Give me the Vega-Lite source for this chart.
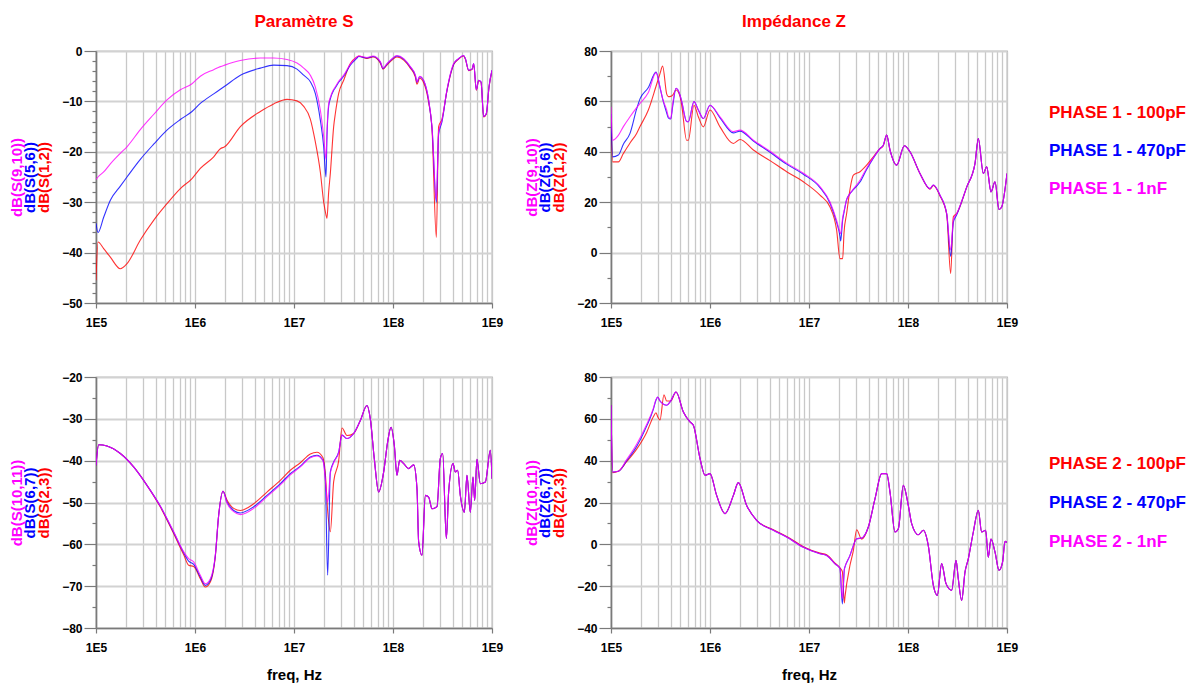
{
  "$schema": "https://vega.github.io/schema/vega-lite/v6.json",
  "padding": {"left": 8, "top": 12, "right": 0, "bottom": 0},
  "spacing": 41,
  "config": {
    "font": "Liberation Sans",
    "view": {"stroke": "#8c8c8c", "strokeWidth": 1.2},
    "concat": {"spacing": 19},
    "line": {"interpolate": "monotone"},
    "axis": {
      "labelFont": "Liberation Sans", "labelFontWeight": "bold", "labelFontSize": 12, "labelColor": "#000000",
      "titleFont": "Liberation Sans", "titleFontWeight": "bold", "titleFontSize": 15,
      "domainColor": "#7a7a7a", "domainWidth": 1.6, "tickColor": "#7a7a7a", "tickWidth": 1.2,
      "gridColor": "#c8c8c8", "gridWidth": 1.3
    },
    "title": {"font": "Liberation Sans", "fontSize": 17, "fontWeight": "bold", "color": "#ff0000", "anchor": "middle", "frame": "group", "offset": 14}
  },
  "datasets": {
    "tl": [
      {"f": 1e5, "r": -45.5, "b": -34.2, "m": -25.5},
      {"f": 1.048e5, "r": -37.9, "b": -36.0, "m": -25.0},
      {"f": 1.195e5, "r": -39.2, "b": -33.0, "m": -24.0},
      {"f": 1.396e5, "r": -40.9, "b": -29.6, "m": -22.4},
      {"f": 1.762e5, "r": -43.2, "b": -26.8, "m": -20.3},
      {"f": 2.056e5, "r": -42.2, "b": -25.0, "m": -19.0},
      {"f": 2.804e5, "r": -37.5, "b": -21.5, "m": -15.6},
      {"f": 3.822e5, "r": -33.6, "b": -18.5, "m": -12.6},
      {"f": 5.21e5, "r": -30.3, "b": -15.7, "m": -9.7},
      {"f": 7.11e5, "r": -27.3, "b": -13.6, "m": -7.7},
      {"f": 9.33e5, "r": -25.3, "b": -12.0, "m": -6.5},
      {"f": 1.132e6, "r": -23.3, "b": -10.4, "m": -5.0},
      {"f": 1.545e6, "r": -21.0, "b": -8.5, "m": -3.7},
      {"f": 1.803e6, "r": -19.4, "b": -7.6, "m": -3.1},
      {"f": 1.995e6, "r": -19.0, "b": -7.0, "m": -2.8},
      {"f": 2.872e6, "r": -15.0, "b": -4.8, "m": -1.9},
      {"f": 4.57e6, "r": -12.0, "b": -3.4, "m": -1.4},
      {"f": 6.237e6, "r": -10.5, "b": -2.8, "m": -1.4},
      {"f": 8.5e6, "r": -9.6, "b": -2.9, "m": -1.7},
      {"f": 1.072e7, "r": -9.9, "b": -3.6, "m": -2.4},
      {"f": 1.253e7, "r": -11.0, "b": -4.8, "m": -3.4},
      {"f": 1.462e7, "r": -13.5, "b": -6.1, "m": -4.8},
      {"f": 1.641e7, "r": -18.0, "b": -8.4, "m": -7.1},
      {"f": 1.845e7, "r": -24.0, "b": -13.7, "m": -11.7},
      {"f": 1.995e7, "r": -30.0, "b": -19.0, "m": -17.0},
      {"f": 2.104e7, "r": -32.5, "b": -25.0, "m": -21.5},
      {"f": 2.153e7, "r": -33.2, "b": -17.0, "m": -16.0},
      {"f": 2.239e7, "r": -28.0, "b": -11.0, "m": -10.5},
      {"f": 2.328e7, "r": -24.3, "b": -9.5, "m": -9.2},
      {"f": 2.516e7, "r": -15.0, "b": -7.8, "m": -7.6},
      {"f": 2.616e7, "r": -12.4, "b": -7.3, "m": -7.1},
      {"f": 2.828e7, "r": -8.4, "b": -6.2, "m": -6.0},
      {"f": 3.177e7, "r": -5.8, "b": -5.0, "m": -4.8},
      {"f": 3.707e7, "r": -2.5, "b": -2.8, "m": -2.6},
      {"f": 4.329e7, "r": -1.2, "b": -1.4, "m": -1.2},
      {"f": 4.5e7, "r": -1.0, "b": -1.1, "m": -1.0},
      {"f": 5.458e7, "r": -1.5, "b": -1.4, "m": -1.3},
      {"f": 6.28e7, "r": -1.2, "b": -1.1, "m": -1.0},
      {"f": 7.447e7, "r": -2.4, "b": -2.2, "m": -2.1},
      {"f": 7.92e7, "r": -3.6, "b": -3.5, "m": -3.4},
      {"f": 8.69e7, "r": -2.8, "b": -2.6, "m": -2.5},
      {"f": 9.77e7, "r": -1.8, "b": -1.6, "m": -1.5},
      {"f": 1.097e8, "r": -1.2, "b": -1.0, "m": -0.9},
      {"f": 1.282e8, "r": -1.8, "b": -1.6, "m": -1.5},
      {"f": 1.496e8, "r": -3.4, "b": -3.2, "m": -3.1},
      {"f": 1.682e8, "r": -5.2, "b": -4.9, "m": -4.8},
      {"f": 1.747e8, "r": -6.6, "b": -6.2, "m": -6.1},
      {"f": 1.858e8, "r": -5.4, "b": -5.1, "m": -5.0},
      {"f": 2.04e8, "r": -6.3, "b": -5.9, "m": -5.8},
      {"f": 2.291e8, "r": -10.2, "b": -9.8, "m": -9.7},
      {"f": 2.477e8, "r": -15.5, "b": -15.2, "m": -15.0},
      {"f": 2.74e8, "r": -37.0, "b": -30.0, "m": -29.5},
      {"f": 2.891e8, "r": -15.0, "b": -16.5, "m": -16.0},
      {"f": 3.126e8, "r": -13.5, "b": -14.0, "m": -13.7},
      {"f": 3.508e8, "r": -7.9, "b": -7.8, "m": -7.7},
      {"f": 4.1e8, "r": -2.7, "b": -2.6, "m": -2.5},
      {"f": 4.605e8, "r": -1.6, "b": -1.5, "m": -1.5},
      {"f": 5.17e8, "r": -1.0, "b": -0.9, "m": -0.9},
      {"f": 5.38e8, "r": -1.6, "b": -1.5, "m": -1.5},
      {"f": 5.81e8, "r": -3.9, "b": -3.8, "m": -3.8},
      {"f": 6.28e8, "r": -3.7, "b": -3.6, "m": -3.6},
      {"f": 6.53e8, "r": -2.6, "b": -2.5, "m": -2.5},
      {"f": 6.95e8, "r": -7.8, "b": -7.7, "m": -7.7},
      {"f": 7.33e8, "r": -5.9, "b": -5.8, "m": -5.8},
      {"f": 7.74e8, "r": -6.2, "b": -6.1, "m": -6.1},
      {"f": 8.24e8, "r": -13.1, "b": -13.0, "m": -13.0},
      {"f": 8.77e8, "r": -12.5, "b": -12.4, "m": -12.4},
      {"f": 9.33e8, "r": -7.2, "b": -7.1, "m": -7.1},
      {"f": 1e9, "r": -3.9, "b": -3.8, "m": -3.8}
    ],
    "tr": [
      {"f": 1e5, "r": 54, "b": 55, "m": 57.9},
      {"f": 1.039e5, "r": 36, "b": 38, "m": 44.6},
      {"f": 1.186e5, "r": 36, "b": 38.7, "m": 46.5},
      {"f": 1.333e5, "r": 39.3, "b": 43, "m": 50},
      {"f": 1.556e5, "r": 43.5, "b": 47.3, "m": 53.9},
      {"f": 1.816e5, "r": 47.3, "b": 57, "m": 57.5},
      {"f": 1.963e5, "r": 50, "b": 61, "m": 59.2},
      {"f": 2.384e5, "r": 56.6, "b": 65.5, "m": 63.5},
      {"f": 2.85e5, "r": 66, "b": 71.6, "m": 71.4},
      {"f": 3.126e5, "r": 71, "b": 65.5, "m": 65.8},
      {"f": 3.324e5, "r": 74, "b": 61, "m": 61},
      {"f": 3.648e5, "r": 63, "b": 55.5, "m": 56.6},
      {"f": 3.793e5, "r": 61.9, "b": 53.5, "m": 54},
      {"f": 4.009e5, "r": 62, "b": 53, "m": 53.2},
      {"f": 4.198e5, "r": 62.5, "b": 58, "m": 59},
      {"f": 4.539e5, "r": 64.5, "b": 65.2, "m": 65.2},
      {"f": 4.977e5, "r": 62, "b": 62.5, "m": 62.5},
      {"f": 5.176e5, "r": 58.5, "b": 60, "m": 60},
      {"f": 5.808e5, "r": 44.6, "b": 52, "m": 52},
      {"f": 6.04e5, "r": 44.6, "b": 51.9, "m": 51.9},
      {"f": 6.887e5, "r": 58.5, "b": 59.9, "m": 59.9},
      {"f": 7.62e5, "r": 53.9, "b": 56.6, "m": 56.6},
      {"f": 8.57e5, "r": 49.9, "b": 53.2, "m": 53.2},
      {"f": 1e6, "r": 56.6, "b": 58.5, "m": 58.5},
      {"f": 1.262e6, "r": 49.9, "b": 53.5, "m": 53.9},
      {"f": 1.722e6, "r": 43.3, "b": 47.5, "m": 48},
      {"f": 2.01e6, "r": 44.9, "b": 48.2, "m": 48.6},
      {"f": 2.742e6, "r": 40.7, "b": 44.3, "m": 44.6},
      {"f": 4.04e6, "r": 36.5, "b": 39.8, "m": 40.2},
      {"f": 5.95e6, "r": 32.1, "b": 35.1, "m": 35.5},
      {"f": 8.77e6, "r": 28.1, "b": 31.1, "m": 31.5},
      {"f": 1.291e7, "r": 22.8, "b": 25.8, "m": 26.2},
      {"f": 1.63e7, "r": 18.1, "b": 19.6, "m": 20.1},
      {"f": 1.902e7, "r": 8.9, "b": 12, "m": 12.8},
      {"f": 2.056e7, "r": -2.4, "b": 6.5, "m": 8},
      {"f": 2.089e7, "r": -2.4, "b": 4.6, "m": 7.5},
      {"f": 2.188e7, "r": -2.4, "b": 13, "m": 14},
      {"f": 2.259e7, "r": 8, "b": 16, "m": 16.5},
      {"f": 2.4e7, "r": 15.5, "b": 21, "m": 21},
      {"f": 2.594e7, "r": 25, "b": 23.4, "m": 23.4},
      {"f": 2.805e7, "r": 30.7, "b": 25, "m": 25.2},
      {"f": 3.275e7, "r": 32.1, "b": 28, "m": 28.7},
      {"f": 3.82e7, "r": 34.7, "b": 33, "m": 33.5},
      {"f": 4.466e7, "r": 38, "b": 37.5, "m": 37.7},
      {"f": 5.21e7, "r": 41.3, "b": 41.3, "m": 41.3},
      {"f": 5.63e7, "r": 42.4, "b": 42.6, "m": 42.6},
      {"f": 6.09e7, "r": 46.6, "b": 46.6, "m": 46.6},
      {"f": 6.58e7, "r": 40.7, "b": 40.7, "m": 40.7},
      {"f": 7.69e7, "r": 34.7, "b": 34.7, "m": 34.7},
      {"f": 9.19e7, "r": 42.4, "b": 42.4, "m": 42.4},
      {"f": 1.047e8, "r": 40, "b": 40, "m": 40},
      {"f": 1.321e8, "r": 31.4, "b": 31.4, "m": 31.4},
      {"f": 1.667e8, "r": 25.2, "b": 25.4, "m": 25.4},
      {"f": 1.803e8, "r": 26.6, "b": 26.8, "m": 26.8},
      {"f": 2.104e8, "r": 22.5, "b": 22.8, "m": 22.8},
      {"f": 2.46e8, "r": 15.2, "b": 15.5, "m": 15.5},
      {"f": 2.698e8, "r": -8.3, "b": -1.5, "m": 1},
      {"f": 2.871e8, "r": 14.2, "b": 12, "m": 13},
      {"f": 3.105e8, "r": 15.5, "b": 15, "m": 15.5},
      {"f": 3.917e8, "r": 26, "b": 26, "m": 26},
      {"f": 4.753e8, "r": 35.4, "b": 35.4, "m": 35.4},
      {"f": 5.13e8, "r": 45.3, "b": 45.3, "m": 45.3},
      {"f": 5.77e8, "r": 31.4, "b": 31.4, "m": 31.4},
      {"f": 6.24e8, "r": 34, "b": 34, "m": 34},
      {"f": 6.89e8, "r": 24.1, "b": 24.1, "m": 24.1},
      {"f": 7.57e8, "r": 28.1, "b": 28.1, "m": 28.1},
      {"f": 8.3e8, "r": 17.1, "b": 17.1, "m": 17.1},
      {"f": 8.83e8, "r": 18.1, "b": 18.1, "m": 18.1},
      {"f": 1e9, "r": 31.4, "b": 31.4, "m": 31.4}
    ],
    "bl": [
      {"f": 1e5, "r": -41.1, "b": -41.1, "m": -41.1},
      {"f": 1.064e5, "r": -36.2, "b": -36.2, "m": -36.2},
      {"f": 1.291e5, "r": -36.5, "b": -36.5, "m": -36.5},
      {"f": 1.762e5, "r": -38.3, "b": -38.3, "m": -38.3},
      {"f": 2.4e5, "r": -41.5, "b": -41.5, "m": -41.5},
      {"f": 3.273e5, "r": -45.9, "b": -45.9, "m": -45.9},
      {"f": 4.467e5, "r": -51.1, "b": -50.9, "m": -50.9},
      {"f": 6.1e5, "r": -57.5, "b": -57.2, "m": -57},
      {"f": 7.69e5, "r": -62.5, "b": -62, "m": -61.8},
      {"f": 8.63e5, "r": -65, "b": -64, "m": -63.4},
      {"f": 9.7e5, "r": -65.3, "b": -64.8, "m": -64.2},
      {"f": 1.132e6, "r": -68.2, "b": -67.8, "m": -67.4},
      {"f": 1.271e6, "r": -70.2, "b": -69.8, "m": -69.4},
      {"f": 1.429e6, "r": -69, "b": -68.6, "m": -68.2},
      {"f": 1.603e6, "r": -63, "b": -62.8, "m": -62.6},
      {"f": 1.733e6, "r": -53.1, "b": -53.1, "m": -53.1},
      {"f": 1.918e6, "r": -47.3, "b": -47.3, "m": -47.3},
      {"f": 2.104e6, "r": -49.4, "b": -49.9, "m": -50.1},
      {"f": 2.46e6, "r": -51.4, "b": -51.9, "m": -52.2},
      {"f": 2.872e6, "r": -51.9, "b": -52.5, "m": -52.9},
      {"f": 3.917e6, "r": -50.3, "b": -51, "m": -51.4},
      {"f": 5.333e6, "r": -47.5, "b": -48.3, "m": -48.6},
      {"f": 7.278e6, "r": -44.7, "b": -45.5, "m": -45.8},
      {"f": 9.18e6, "r": -42.3, "b": -43.1, "m": -43.4},
      {"f": 1.159e7, "r": -40.5, "b": -41.3, "m": -41.5},
      {"f": 1.462e7, "r": -38.4, "b": -39.1, "m": -39.3},
      {"f": 1.706e7, "r": -38, "b": -38.7, "m": -38.9},
      {"f": 1.963e7, "r": -39.3, "b": -39.9, "m": -40},
      {"f": 2.072e7, "r": -43, "b": -44.3, "m": -44.5},
      {"f": 2.188e7, "r": -52, "b": -67.4, "m": -50},
      {"f": 2.328e7, "r": -57, "b": -42.7, "m": -43},
      {"f": 2.516e7, "r": -45, "b": -40.3, "m": -40.5},
      {"f": 2.828e7, "r": -40, "b": -37.9, "m": -38},
      {"f": 3.055e7, "r": -32.2, "b": -33.9, "m": -33.9},
      {"f": 3.43e7, "r": -34, "b": -34.7, "m": -34.7},
      {"f": 4.006e7, "r": -33.5, "b": -33.5, "m": -33.5},
      {"f": 4.677e7, "r": -30.4, "b": -30.4, "m": -30.4},
      {"f": 5.458e7, "r": -26.8, "b": -26.8, "m": -26.8},
      {"f": 5.9e7, "r": -30, "b": -30, "m": -30},
      {"f": 6.47e7, "r": -39.5, "b": -39.5, "m": -39.5},
      {"f": 7.16e7, "r": -47.5, "b": -47.5, "m": -47.5},
      {"f": 8.05e7, "r": -42.7, "b": -42.7, "m": -42.7},
      {"f": 8.83e7, "r": -35.5, "b": -35.5, "m": -35.5},
      {"f": 9.55e7, "r": -32, "b": -32, "m": -32},
      {"f": 1.031e8, "r": -36.3, "b": -36.3, "m": -36.3},
      {"f": 1.097e8, "r": -43.5, "b": -43.5, "m": -43.5},
      {"f": 1.167e8, "r": -39.9, "b": -39.9, "m": -39.9},
      {"f": 1.282e8, "r": -40.7, "b": -40.7, "m": -40.7},
      {"f": 1.439e8, "r": -41.9, "b": -41.9, "m": -41.9},
      {"f": 1.618e8, "r": -41, "b": -41, "m": -41},
      {"f": 1.747e8, "r": -46.7, "b": -46.7, "m": -46.7},
      {"f": 1.816e8, "r": -59.4, "b": -59.4, "m": -59.4},
      {"f": 1.963e8, "r": -62.6, "b": -62.6, "m": -62.6},
      {"f": 2.123e8, "r": -48.3, "b": -48.3, "m": -48.3},
      {"f": 2.291e8, "r": -48.7, "b": -48.7, "m": -48.7},
      {"f": 2.477e8, "r": -51.5, "b": -51.5, "m": -51.5},
      {"f": 2.782e8, "r": -51, "b": -51, "m": -51},
      {"f": 3.006e8, "r": -39.5, "b": -39.5, "m": -39.5},
      {"f": 3.177e8, "r": -38.3, "b": -38.3, "m": -38.3},
      {"f": 3.459e8, "r": -58.6, "b": -58.6, "m": -58.6},
      {"f": 3.648e8, "r": -47.5, "b": -47.5, "m": -47.5},
      {"f": 4.036e8, "r": -40.7, "b": -40.7, "m": -40.7},
      {"f": 4.266e8, "r": -42.7, "b": -42.7, "m": -42.7},
      {"f": 4.5e8, "r": -42.3, "b": -42.3, "m": -42.3},
      {"f": 4.786e8, "r": -48.3, "b": -48.3, "m": -48.3},
      {"f": 5.26e8, "r": -52.3, "b": -52.3, "m": -52.3},
      {"f": 5.585e8, "r": -43.5, "b": -43.5, "m": -43.5},
      {"f": 6.04e8, "r": -52.3, "b": -52.3, "m": -52.3},
      {"f": 6.43e8, "r": -43.9, "b": -43.9, "m": -43.9},
      {"f": 6.68e8, "r": -49.5, "b": -49.5, "m": -49.5},
      {"f": 7.05e8, "r": -39.7, "b": -39.7, "m": -39.7},
      {"f": 7.62e8, "r": -45.5, "b": -45.5, "m": -45.5},
      {"f": 8.57e8, "r": -45.1, "b": -45.1, "m": -45.1},
      {"f": 9.62e8, "r": -37.5, "b": -37.5, "m": -37.5},
      {"f": 1e9, "r": -44.3, "b": -44.3, "m": -44.3}
    ],
    "br": [
      {"f": 1e5, "r": 66.5, "b": 66.5, "m": 66.5},
      {"f": 1.039e5, "r": 34.3, "b": 34.6, "m": 34.6},
      {"f": 1.186e5, "r": 34.9, "b": 34.9, "m": 34.9},
      {"f": 1.439e5, "r": 39.5, "b": 40, "m": 40.5},
      {"f": 1.816e5, "r": 45.5, "b": 46.8, "m": 47.8},
      {"f": 2.291e5, "r": 53.5, "b": 56.5, "m": 57.3},
      {"f": 2.677e5, "r": 61, "b": 64.5, "m": 65},
      {"f": 2.85e5, "r": 62.9, "b": 69, "m": 69.3},
      {"f": 2.961e5, "r": 61, "b": 70.4, "m": 70.4},
      {"f": 3.126e5, "r": 59.5, "b": 68.5, "m": 68.5},
      {"f": 3.43e5, "r": 71.5, "b": 66.8, "m": 66.8},
      {"f": 3.648e5, "r": 68.5, "b": 66.5, "m": 66.5},
      {"f": 4.0e5, "r": 68.5, "b": 68.5, "m": 68.5},
      {"f": 4.539e5, "r": 72.8, "b": 72.8, "m": 72.8},
      {"f": 5.383e5, "r": 63.3, "b": 63.3, "m": 63.3},
      {"f": 6.28e5, "r": 58.5, "b": 58.5, "m": 58.5},
      {"f": 6.79e5, "r": 56.9, "b": 56.9, "m": 56.9},
      {"f": 7.93e5, "r": 41, "b": 41, "m": 41},
      {"f": 8.9e5, "r": 33, "b": 33, "m": 33},
      {"f": 1e6, "r": 33.8, "b": 33.8, "m": 33.8},
      {"f": 1.167e6, "r": 23.4, "b": 23.4, "m": 23.4},
      {"f": 1.418e6, "r": 14.7, "b": 14.7, "m": 14.7},
      {"f": 1.722e6, "r": 23.4, "b": 23.4, "m": 23.4},
      {"f": 1.932e6, "r": 29.5, "b": 29.5, "m": 29.5},
      {"f": 2.345e6, "r": 18.6, "b": 18.6, "m": 18.6},
      {"f": 2.958e6, "r": 11.5, "b": 11.5, "m": 11.5},
      {"f": 4.365e6, "r": 7, "b": 6.7, "m": 6.7},
      {"f": 5.94e6, "r": 3.8, "b": 3.5, "m": 3.5},
      {"f": 8.77e6, "r": -1.1, "b": -1.4, "m": -1.4},
      {"f": 1.291e7, "r": -4.2, "b": -4.5, "m": -4.5},
      {"f": 1.507e7, "r": -5, "b": -5.3, "m": -5.3},
      {"f": 1.832e7, "r": -9, "b": -9.3, "m": -9.3},
      {"f": 2.056e7, "r": -11.2, "b": -11.6, "m": -11.6},
      {"f": 2.172e7, "r": -13, "b": -28.5, "m": -26},
      {"f": 2.275e7, "r": -28, "b": -12, "m": -12},
      {"f": 2.31e7, "r": -25, "b": -10.8, "m": -10.8},
      {"f": 2.594e7, "r": -10, "b": -5.3, "m": -5.3},
      {"f": 2.805e7, "r": -3, "b": -0.6, "m": -0.6},
      {"f": 3.03e7, "r": 7, "b": 2.7, "m": 2.7},
      {"f": 3.4e7, "r": 2.5, "b": 3, "m": 3},
      {"f": 3.975e7, "r": 8.3, "b": 8.3, "m": 8.3},
      {"f": 4.645e7, "r": 21.8, "b": 21.8, "m": 21.8},
      {"f": 5.42e7, "r": 33.8, "b": 33.8, "m": 33.8},
      {"f": 6.09e7, "r": 33.8, "b": 33.8, "m": 33.8},
      {"f": 6.58e7, "r": 25, "b": 25, "m": 25},
      {"f": 7.39e7, "r": 5.9, "b": 5.9, "m": 5.9},
      {"f": 7.99e7, "r": 7.5, "b": 7.5, "m": 7.5},
      {"f": 8.97e7, "r": 28.2, "b": 28.2, "m": 28.2},
      {"f": 1.007e8, "r": 18.6, "b": 18.6, "m": 18.6},
      {"f": 1.089e8, "r": 9.9, "b": 9.9, "m": 9.9},
      {"f": 1.271e8, "r": 4.6, "b": 4.6, "m": 4.6},
      {"f": 1.429e8, "r": 6.7, "b": 6.7, "m": 6.7},
      {"f": 1.603e8, "r": -0.6, "b": -0.6, "m": -0.6},
      {"f": 1.803e8, "r": -19.6, "b": -19.6, "m": -19.6},
      {"f": 1.977e8, "r": -24.4, "b": -24.4, "m": -24.4},
      {"f": 2.188e8, "r": -9.2, "b": -9.2, "m": -9.2},
      {"f": 2.421e8, "r": -18.8, "b": -18.8, "m": -18.8},
      {"f": 2.761e8, "r": -22, "b": -22, "m": -22},
      {"f": 3.055e8, "r": -7.6, "b": -7.6, "m": -7.6},
      {"f": 3.22e8, "r": -16.4, "b": -16.4, "m": -16.4},
      {"f": 3.483e8, "r": -26.8, "b": -26.8, "m": -26.8},
      {"f": 3.767e8, "r": -13.2, "b": -13.2, "m": -13.2},
      {"f": 4.066e8, "r": -6.9, "b": -6.9, "m": -6.9},
      {"f": 4.57e8, "r": 5.9, "b": 5.9, "m": 5.9},
      {"f": 5.13e8, "r": 16.3, "b": 16.3, "m": 16.3},
      {"f": 5.546e8, "r": 5.9, "b": 5.9, "m": 5.9},
      {"f": 6.09e8, "r": 6.7, "b": 6.7, "m": 6.7},
      {"f": 6.47e8, "r": -6.2, "b": -6.2, "m": -6.2},
      {"f": 6.89e8, "r": 2.5, "b": 2.5, "m": 2.5},
      {"f": 7.57e8, "r": -3.7, "b": -3.7, "m": -3.7},
      {"f": 8.3e8, "r": -12.4, "b": -12.4, "m": -12.4},
      {"f": 9.03e8, "r": -8.4, "b": -8.4, "m": -8.4},
      {"f": 9.55e8, "r": 1.4, "b": 1.4, "m": 1.4},
      {"f": 1e9, "r": 0.9, "b": 0.9, "m": 0.9}
    ],
    "l1": [
      {"series": "100pF", "label": "PHASE 1 - 100pF"},
      {"series": "470pF", "label": "PHASE 1 - 470pF"},
      {"series": "1nF", "label": "PHASE 1 - 1nF"}
    ],
    "l2": [
      {"series": "100pF", "label": "PHASE 2 - 100pF"},
      {"series": "470pF", "label": "PHASE 2 - 470pF"},
      {"series": "1nF", "label": "PHASE 2 - 1nF"}
    ]
  },
  "vconcat": [
    {
      "hconcat": [
        {
          "width": 396, "height": 252,
          "data": {"name": "tl"},
          "title": {"text": "Paramètre S", "dx": 10},
          "encoding": {"x": {"field": "f", "type": "quantitative", "scale": {"type": "log", "domain": [1e5, 1e9]},
            "axis": {"values": [1e5,2e5,3e5,4e5,5e5,6e5,7e5,8e5,9e5,1e6,2e6,3e6,4e6,5e6,6e6,7e6,8e6,9e6,1e7,2e7,3e7,4e7,5e7,6e7,7e7,8e7,9e7,1e8,2e8,3e8,4e8,5e8,6e8,7e8,8e8,9e8,1e9],
              "labelExpr": "abs(log(datum.value)/LN10 - round(log(datum.value)/LN10)) < 0.001 ? '1E' + round(log(datum.value)/LN10) : ''",
              "labelFlush": false, "labelOverlap": false, "labelPadding": 9,
              "tickSize": {"condition": {"test": "abs(log(datum.value)/LN10 - round(log(datum.value)/LN10)) < 0.001", "value": 5}, "value": 0},
              "title": null}}},
          "layer": [
            {"mark": {"type": "line", "color": "#ff0000", "strokeWidth": 1.1, "opacity": 0.8, "clip": true},
             "encoding": {"y": {"field": "r", "type": "quantitative", "scale": {"domain": [-50, 0], "nice": false, "zero": false},
               "axis": {"orient": "left", "values": [-50,-48,-46,-44,-42,-40,-38,-36,-34,-32,-30,-28,-26,-24,-22,-20,-18,-16,-14,-12,-10,-8,-6,-4,-2,0],
                 "labelExpr": "datum.value % 10 == 0 ? datum.label : ''", "labelOverlap": false, "labelPadding": 2,
                 "tickSize": {"condition": {"test": "datum.value % 10 == 0", "value": 12}, "value": 4},
                 "gridOpacity": {"condition": {"test": "datum.value % 10 == 0", "value": 1}, "value": 0},
                 "gridColor": "#d2d2d2", "gridWidth": 2,
                 "title": "dB(S(1,2))", "titleColor": "#ff0000", "titlePadding": 10}}}},
            {"mark": {"type": "line", "color": "#0000ff", "strokeWidth": 1.1, "opacity": 0.8, "clip": true},
             "encoding": {"y": {"field": "b", "type": "quantitative", "scale": {"domain": [-50, 0], "nice": false, "zero": false},
               "axis": {"orient": "left", "labels": false, "ticks": false, "domain": false, "grid": false, "title": "dB(S(5,6))", "titleColor": "#0000ff", "titlePadding": 59}}}},
            {"mark": {"type": "line", "color": "#ff00ff", "strokeWidth": 1.1, "opacity": 0.8, "clip": true},
             "encoding": {"y": {"field": "m", "type": "quantitative", "scale": {"domain": [-50, 0], "nice": false, "zero": false},
               "axis": {"orient": "left", "labels": false, "ticks": false, "domain": false, "grid": false, "title": "dB(S(9,10))", "titleColor": "#ff00ff", "titlePadding": 72}}}}
          ],
          "resolve": {"axis": {"y": "independent"}}
        },
        {
          "width": 396, "height": 252,
          "data": {"name": "tr"},
          "title": {"text": "Impédance Z", "dx": -15},
          "encoding": {"x": {"field": "f", "type": "quantitative", "scale": {"type": "log", "domain": [1e5, 1e9]},
            "axis": {"values": [1e5,2e5,3e5,4e5,5e5,6e5,7e5,8e5,9e5,1e6,2e6,3e6,4e6,5e6,6e6,7e6,8e6,9e6,1e7,2e7,3e7,4e7,5e7,6e7,7e7,8e7,9e7,1e8,2e8,3e8,4e8,5e8,6e8,7e8,8e8,9e8,1e9],
              "labelExpr": "abs(log(datum.value)/LN10 - round(log(datum.value)/LN10)) < 0.001 ? '1E' + round(log(datum.value)/LN10) : ''",
              "labelFlush": false, "labelOverlap": false, "labelPadding": 9,
              "tickSize": {"condition": {"test": "abs(log(datum.value)/LN10 - round(log(datum.value)/LN10)) < 0.001", "value": 5}, "value": 0},
              "title": null}}},
          "layer": [
            {"mark": {"type": "line", "color": "#ff0000", "strokeWidth": 1.1, "opacity": 0.8, "clip": true},
             "encoding": {"y": {"field": "r", "type": "quantitative", "scale": {"domain": [-20, 80], "nice": false, "zero": false},
               "axis": {"orient": "left", "values": [-20,-10,0,10,20,30,40,50,60,70,80],
                 "labelExpr": "datum.value % 20 == 0 ? datum.label : ''", "labelOverlap": false, "labelPadding": 2,
                 "tickSize": {"condition": {"test": "datum.value % 20 == 0", "value": 12}, "value": 4},
                 "gridOpacity": {"condition": {"test": "datum.value % 20 == 0", "value": 1}, "value": 0},
                 "gridColor": "#d2d2d2", "gridWidth": 2,
                 "title": "dB(Z(1,2))", "titleColor": "#ff0000", "titlePadding": 10}}}},
            {"mark": {"type": "line", "color": "#0000ff", "strokeWidth": 1.1, "opacity": 0.8, "clip": true},
             "encoding": {"y": {"field": "b", "type": "quantitative", "scale": {"domain": [-20, 80], "nice": false, "zero": false},
               "axis": {"orient": "left", "labels": false, "ticks": false, "domain": false, "grid": false, "title": "dB(Z(5,6))", "titleColor": "#0000ff", "titlePadding": 59}}}},
            {"mark": {"type": "line", "color": "#ff00ff", "strokeWidth": 1.1, "opacity": 0.8, "clip": true},
             "encoding": {"y": {"field": "m", "type": "quantitative", "scale": {"domain": [-20, 80], "nice": false, "zero": false},
               "axis": {"orient": "left", "labels": false, "ticks": false, "domain": false, "grid": false, "title": "dB(Z(9,10))", "titleColor": "#ff00ff", "titlePadding": 72}}}}
          ],
          "resolve": {"axis": {"y": "independent"}}
        },
        {
          "width": 22, "height": 152,
          "view": {"stroke": null},
          "data": {"name": "l1"},
          "mark": {"type": "text", "align": "left", "baseline": "middle", "font": "Liberation Sans", "fontWeight": "bold", "fontSize": 17, "dy": 1},
          "encoding": {
            "y": {"field": "series", "type": "ordinal", "scale": {"type": "point", "domain": ["100pF", "470pF", "1nF"], "padding": 1, "align": 0.8}, "axis": null},
            "text": {"field": "label"},
            "color": {"field": "series", "type": "nominal", "scale": {"domain": ["100pF", "470pF", "1nF"], "range": ["#ff0000", "#0000ff", "#ff00ff"]}, "legend": null}
          }
        }
      ]
    },
    {
      "hconcat": [
        {
          "width": 396, "height": 251,
          "data": {"name": "bl"},
          "encoding": {"x": {"field": "f", "type": "quantitative", "scale": {"type": "log", "domain": [1e5, 1e9]},
            "axis": {"values": [1e5,2e5,3e5,4e5,5e5,6e5,7e5,8e5,9e5,1e6,2e6,3e6,4e6,5e6,6e6,7e6,8e6,9e6,1e7,2e7,3e7,4e7,5e7,6e7,7e7,8e7,9e7,1e8,2e8,3e8,4e8,5e8,6e8,7e8,8e8,9e8,1e9],
              "labelExpr": "abs(log(datum.value)/LN10 - round(log(datum.value)/LN10)) < 0.001 ? '1E' + round(log(datum.value)/LN10) : ''",
              "labelFlush": false, "labelOverlap": false, "labelPadding": 9,
              "tickSize": {"condition": {"test": "abs(log(datum.value)/LN10 - round(log(datum.value)/LN10)) < 0.001", "value": 5}, "value": 0},
              "title": "freq, Hz", "titlePadding": 14}}},
          "layer": [
            {"mark": {"type": "line", "color": "#ff0000", "strokeWidth": 1.1, "opacity": 0.8, "clip": true},
             "encoding": {"y": {"field": "r", "type": "quantitative", "scale": {"domain": [-80, -20], "nice": false, "zero": false},
               "axis": {"orient": "left", "values": [-80,-75,-70,-65,-60,-55,-50,-45,-40,-35,-30,-25,-20],
                 "labelExpr": "datum.value % 10 == 0 ? datum.label : ''", "labelOverlap": false, "labelPadding": 2,
                 "tickSize": {"condition": {"test": "datum.value % 10 == 0", "value": 12}, "value": 4},
                 "gridOpacity": {"condition": {"test": "datum.value % 10 == 0", "value": 1}, "value": 0},
                 "gridColor": "#d2d2d2", "gridWidth": 2,
                 "title": "dB(S(2,3))", "titleColor": "#ff0000", "titlePadding": 10}}}},
            {"mark": {"type": "line", "color": "#0000ff", "strokeWidth": 1.1, "opacity": 0.8, "clip": true},
             "encoding": {"y": {"field": "b", "type": "quantitative", "scale": {"domain": [-80, -20], "nice": false, "zero": false},
               "axis": {"orient": "left", "labels": false, "ticks": false, "domain": false, "grid": false, "title": "dB(S(6,7))", "titleColor": "#0000ff", "titlePadding": 59}}}},
            {"mark": {"type": "line", "color": "#ff00ff", "strokeWidth": 1.1, "opacity": 0.8, "clip": true},
             "encoding": {"y": {"field": "m", "type": "quantitative", "scale": {"domain": [-80, -20], "nice": false, "zero": false},
               "axis": {"orient": "left", "labels": false, "ticks": false, "domain": false, "grid": false, "title": "dB(S(10,11))", "titleColor": "#ff00ff", "titlePadding": 72}}}}
          ],
          "resolve": {"axis": {"y": "independent"}}
        },
        {
          "width": 396, "height": 251,
          "data": {"name": "br"},
          "encoding": {"x": {"field": "f", "type": "quantitative", "scale": {"type": "log", "domain": [1e5, 1e9]},
            "axis": {"values": [1e5,2e5,3e5,4e5,5e5,6e5,7e5,8e5,9e5,1e6,2e6,3e6,4e6,5e6,6e6,7e6,8e6,9e6,1e7,2e7,3e7,4e7,5e7,6e7,7e7,8e7,9e7,1e8,2e8,3e8,4e8,5e8,6e8,7e8,8e8,9e8,1e9],
              "labelExpr": "abs(log(datum.value)/LN10 - round(log(datum.value)/LN10)) < 0.001 ? '1E' + round(log(datum.value)/LN10) : ''",
              "labelFlush": false, "labelOverlap": false, "labelPadding": 9,
              "tickSize": {"condition": {"test": "abs(log(datum.value)/LN10 - round(log(datum.value)/LN10)) < 0.001", "value": 5}, "value": 0},
              "title": "freq, Hz", "titlePadding": 14}}},
          "layer": [
            {"mark": {"type": "line", "color": "#ff0000", "strokeWidth": 1.1, "opacity": 0.8, "clip": true},
             "encoding": {"y": {"field": "r", "type": "quantitative", "scale": {"domain": [-40, 80], "nice": false, "zero": false},
               "axis": {"orient": "left", "values": [-40,-30,-20,-10,0,10,20,30,40,50,60,70,80],
                 "labelExpr": "datum.value % 20 == 0 ? datum.label : ''", "labelOverlap": false, "labelPadding": 2,
                 "tickSize": {"condition": {"test": "datum.value % 20 == 0", "value": 12}, "value": 4},
                 "gridOpacity": {"condition": {"test": "datum.value % 20 == 0", "value": 1}, "value": 0},
                 "gridColor": "#d2d2d2", "gridWidth": 2,
                 "title": "dB(Z(2,3))", "titleColor": "#ff0000", "titlePadding": 10}}}},
            {"mark": {"type": "line", "color": "#0000ff", "strokeWidth": 1.1, "opacity": 0.8, "clip": true},
             "encoding": {"y": {"field": "b", "type": "quantitative", "scale": {"domain": [-40, 80], "nice": false, "zero": false},
               "axis": {"orient": "left", "labels": false, "ticks": false, "domain": false, "grid": false, "title": "dB(Z(6,7))", "titleColor": "#0000ff", "titlePadding": 59}}}},
            {"mark": {"type": "line", "color": "#ff00ff", "strokeWidth": 1.1, "opacity": 0.8, "clip": true},
             "encoding": {"y": {"field": "m", "type": "quantitative", "scale": {"domain": [-40, 80], "nice": false, "zero": false},
               "axis": {"orient": "left", "labels": false, "ticks": false, "domain": false, "grid": false, "title": "dB(Z(10,11))", "titleColor": "#ff00ff", "titlePadding": 72}}}}
          ],
          "resolve": {"axis": {"y": "independent"}}
        },
        {
          "width": 22, "height": 156,
          "view": {"stroke": null},
          "data": {"name": "l2"},
          "mark": {"type": "text", "align": "left", "baseline": "middle", "font": "Liberation Sans", "fontWeight": "bold", "fontSize": 17, "dy": 25},
          "encoding": {
            "y": {"field": "series", "type": "ordinal", "scale": {"type": "point", "domain": ["100pF", "470pF", "1nF"], "padding": 1, "align": 0.8}, "axis": null},
            "text": {"field": "label"},
            "color": {"field": "series", "type": "nominal", "scale": {"domain": ["100pF", "470pF", "1nF"], "range": ["#ff0000", "#0000ff", "#ff00ff"]}, "legend": null}
          }
        }
      ]
    }
  ]
}
